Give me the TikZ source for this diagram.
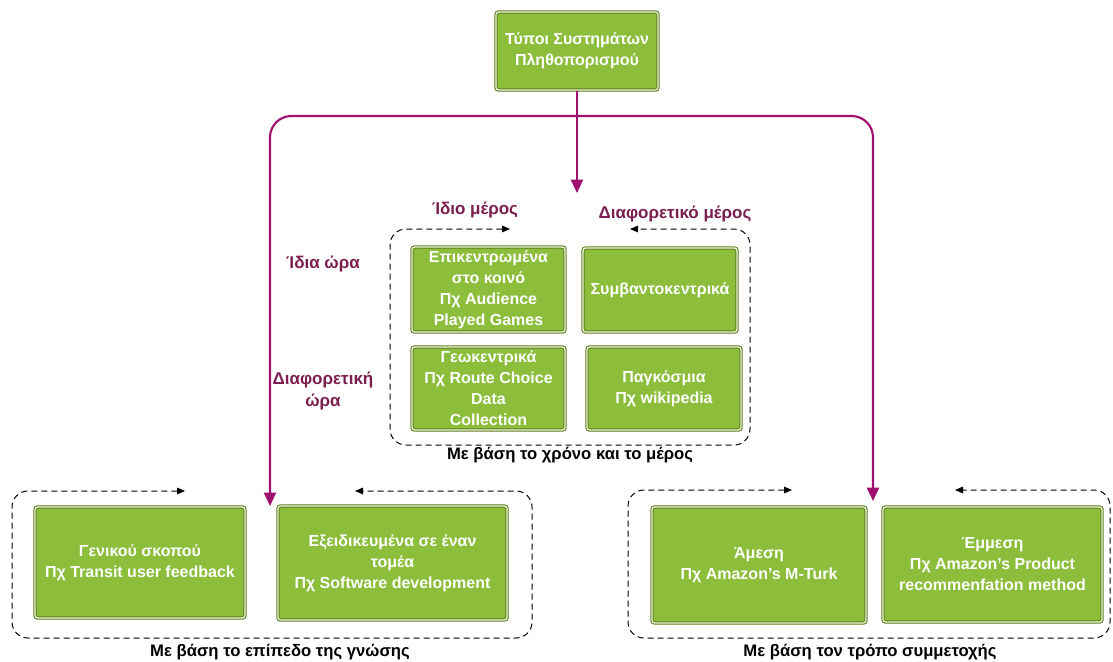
\documentclass[tikz,border=0pt]{standalone}
\usepackage{fontspec}
\setmainfont{Liberation Sans}
\usetikzlibrary{arrows.meta}
\definecolor{boxgreen}{HTML}{8CBE3C}
\definecolor{boxedge}{HTML}{5E7F1E}
\definecolor{boxshine}{HTML}{EEF4DC}
\definecolor{branch}{HTML}{A0106E}
\definecolor{axislabel}{HTML}{7A1E4F}
\tikzset{
  catbox/.style={draw=boxedge, line width=0.8pt, double=boxshine, double distance=1pt,
    fill=boxgreen, rounded corners=2pt, text=white, align=center, inner sep=1pt,
    font=\bfseries\fontsize{12}{15.75}\selectfont},
  branchline/.style={draw=branch, line width=1.6pt, rounded corners=16,
    -{Triangle[length=10pt,width=9pt]}},
  frame/.style={draw=black, line width=0.75pt, dash pattern=on 4.5pt off 3pt,
    rounded corners=12, {Triangle[length=6pt,width=5pt]}-{Triangle[length=6pt,width=5pt]}},
  axis/.style={text=axislabel, align=center, font=\bfseries\fontsize{12.75}{16.5}\selectfont},
  caption/.style={text=black, font=\bfseries\fontsize{12.5}{14}\selectfont},
}
\begin{document}
\begin{tikzpicture}[x=0.75pt,y=-0.75pt]
\useasboundingbox (0,0) rectangle (1113,661);

% root
\node[catbox, minimum width=121.5pt, minimum height=58.5pt] (root) at (577,51)
  {Τύποι Συστημάτων\\Πληθοπορισμού};

% time/place group
\node[catbox, minimum width=114.75pt, minimum height=63.75pt] (same) at (488.5,289.5)
  {Επικεντρωμένα\\στο κοινό\\Πχ Audience\\Played Games};
\node[catbox, minimum width=115.5pt, minimum height=63pt] (event) at (660,290)
  {Συμβαντοκεντρικά};
\node[catbox, minimum width=114.75pt, minimum height=62.25pt] (geo) at (488.5,388.5)
  {Γεωκεντρικά\\Πχ Route Choice\\Data\\Collection};
\node[catbox, minimum width=115.5pt, minimum height=62.25pt] (global) at (664,388.5)
  {Παγκόσμια\\Πχ wikipedia};

\node[axis] (sameplace) at (475,210) {Ίδιο μέρος};
\node[axis] (otherplace) at (675,214) {Διαφορετικό μέρος};
\node[axis] (sametime) at (323,264) {Ίδια ώρα};
\node[axis] (othertime) at (323,391) {Διαφορετική\\ώρα};

\draw[frame] (510,229) -- (390,229) -- (390,445) -- (750,445) -- (750,229) -- (630,229);
\node[caption] (captime) at (570,455) {Με βάση το χρόνο και το μέρος};

% knowledge level group
\node[catbox, minimum width=157.5pt, minimum height=83.25pt] (general) at (140,562.5)
  {Γενικού σκοπού\\Πχ Transit user feedback};
\node[catbox, minimum width=171.75pt, minimum height=85.5pt] (special) at (392.5,563)
  {Εξειδικευμένα σε έναν\\τομέα\\Πχ Software development};
\draw[frame] (185,491) -- (12,491) -- (12,638) -- (532,638) -- (532,491) -- (355,491);
\node[caption] (capknow) at (280,652) {Με βάση το επίπεδο της γνώσης};

% participation group
\node[catbox, minimum width=160.5pt, minimum height=87pt] (direct) at (759,565)
  {Άμεση\\Πχ Amazon’s M-Turk};
\node[catbox, minimum width=164.25pt, minimum height=86.25pt] (indirect) at (992.5,564.5)
  {Έμμεση\\Πχ Amazon’s Product\\recommenfation method};
\draw[frame] (792,490) -- (628,490) -- (628,638) -- (1110,638) -- (1110,490) -- (955,490);
\node[caption] (cappart) at (870,652) {Με βάση τον τρόπο συμμετοχής};

% branches from the root
\coordinate (split) at (root.south |- 0,116);
\coordinate (midtip) at (root.south |- 0,193);
\coordinate (lefttip) at (270,506);
\coordinate (righttip) at (873,501);
\draw[branchline] (root.south) -- (midtip);
\draw[branchline] (split) -| (lefttip);
\draw[branchline] (split) -| (righttip);
\end{tikzpicture}
\end{document}
